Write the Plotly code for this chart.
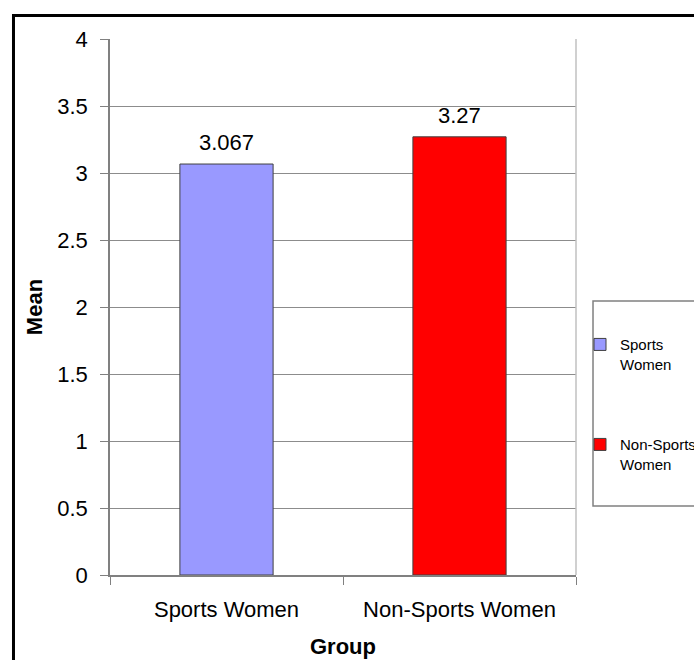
import plotly.graph_objects as go

categories = ["Sports Women", "Non-Sports Women"]
values = [3.067, 3.27]
value_labels = ["3.067", "3.27"]
legend_names = ["Sports<br>Women", "Non-Sports<br>Women"]
colors = ["#9999FF", "#FF0000"]
y_ticks = [0, 0.5, 1, 1.5, 2, 2.5, 3, 3.5, 4]
y_tick_labels = ["0", "0.5", "1", "1.5", "2", "2.5", "3", "3.5", "4"]

FONT = "Liberation Sans, Arial, sans-serif"

fig = go.Figure()
for i, cat in enumerate(categories):
    fig.add_trace(go.Bar(
        x=[cat], y=[values[i]], name=legend_names[i],
        marker=dict(color=colors[i], line=dict(color="#404040", width=1)),
        width=0.4, legendgroup=str(i),
    ))

for i, cat in enumerate(categories):
    fig.add_annotation(x=cat, y=values[i], text=value_labels[i], showarrow=False,
                       yanchor="bottom", yshift=7,
                       font=dict(family=FONT, size=22, color="#000000"))

fig.update_layout(
    width=694, height=660,
    margin=dict(l=110, r=118, t=39, b=85, autoexpand=False),
    paper_bgcolor="white", plot_bgcolor="white",
    barmode="overlay",
    font=dict(family=FONT, size=22, color="#000000"),
    showlegend=True,
    legend=dict(x=1.0086, y=0.4605, xanchor="left", yanchor="top",
                font=dict(family=FONT, size=15, color="#000000"),
                bgcolor="rgba(0,0,0,0)", borderwidth=0,
                traceorder="grouped", tracegroupgap=58, valign="top",
                itemwidth=30),
)

fig.update_xaxes(
    type="category", categoryorder="array", categoryarray=categories,
    showline=True, linecolor="#808080", linewidth=1.5,
    ticks="outside", ticklen=8, tickcolor="#808080", tickson="boundaries",
    showgrid=False, ticklabelstandoff=14,
    tickfont=dict(family=FONT, size=22, color="#000000"),
    title=dict(text="<b>Group</b>", font=dict(family=FONT, size=22), standoff=17),
)
fig.update_yaxes(
    range=[0, 4], tickvals=y_ticks, ticktext=y_tick_labels,
    showline=True, linecolor="#808080", linewidth=1.5,
    ticks="outside", ticklen=8, tickcolor="#808080",
    showgrid=True, gridcolor="#8c8c8c", gridwidth=1, zeroline=False,
    ticklabelstandoff=8,
    tickfont=dict(family=FONT, size=22, color="#000000"),
    title=dict(text="<b>Mean</b>", font=dict(family=FONT, size=22), standoff=9),
)

# right border of plot area
fig.add_shape(type="line", xref="paper", yref="paper", x0=1, x1=1, y0=0, y1=1,
              line=dict(color="#c0c0c0", width=1.5))
# legend box
fig.add_shape(type="rect", xref="paper", yref="paper",
              x0=1.0365, x1=1.35, y0=0.1287, y1=0.5112,
              line=dict(color="#808080", width=1.5))
# outer chart border
fig.add_shape(type="rect", xref="paper", yref="paper",
              x0=-0.2071, x1=1.4, y0=-0.25, y1=1.0438,
              line=dict(color="#000000", width=3))

fig.write_html("out.html")
